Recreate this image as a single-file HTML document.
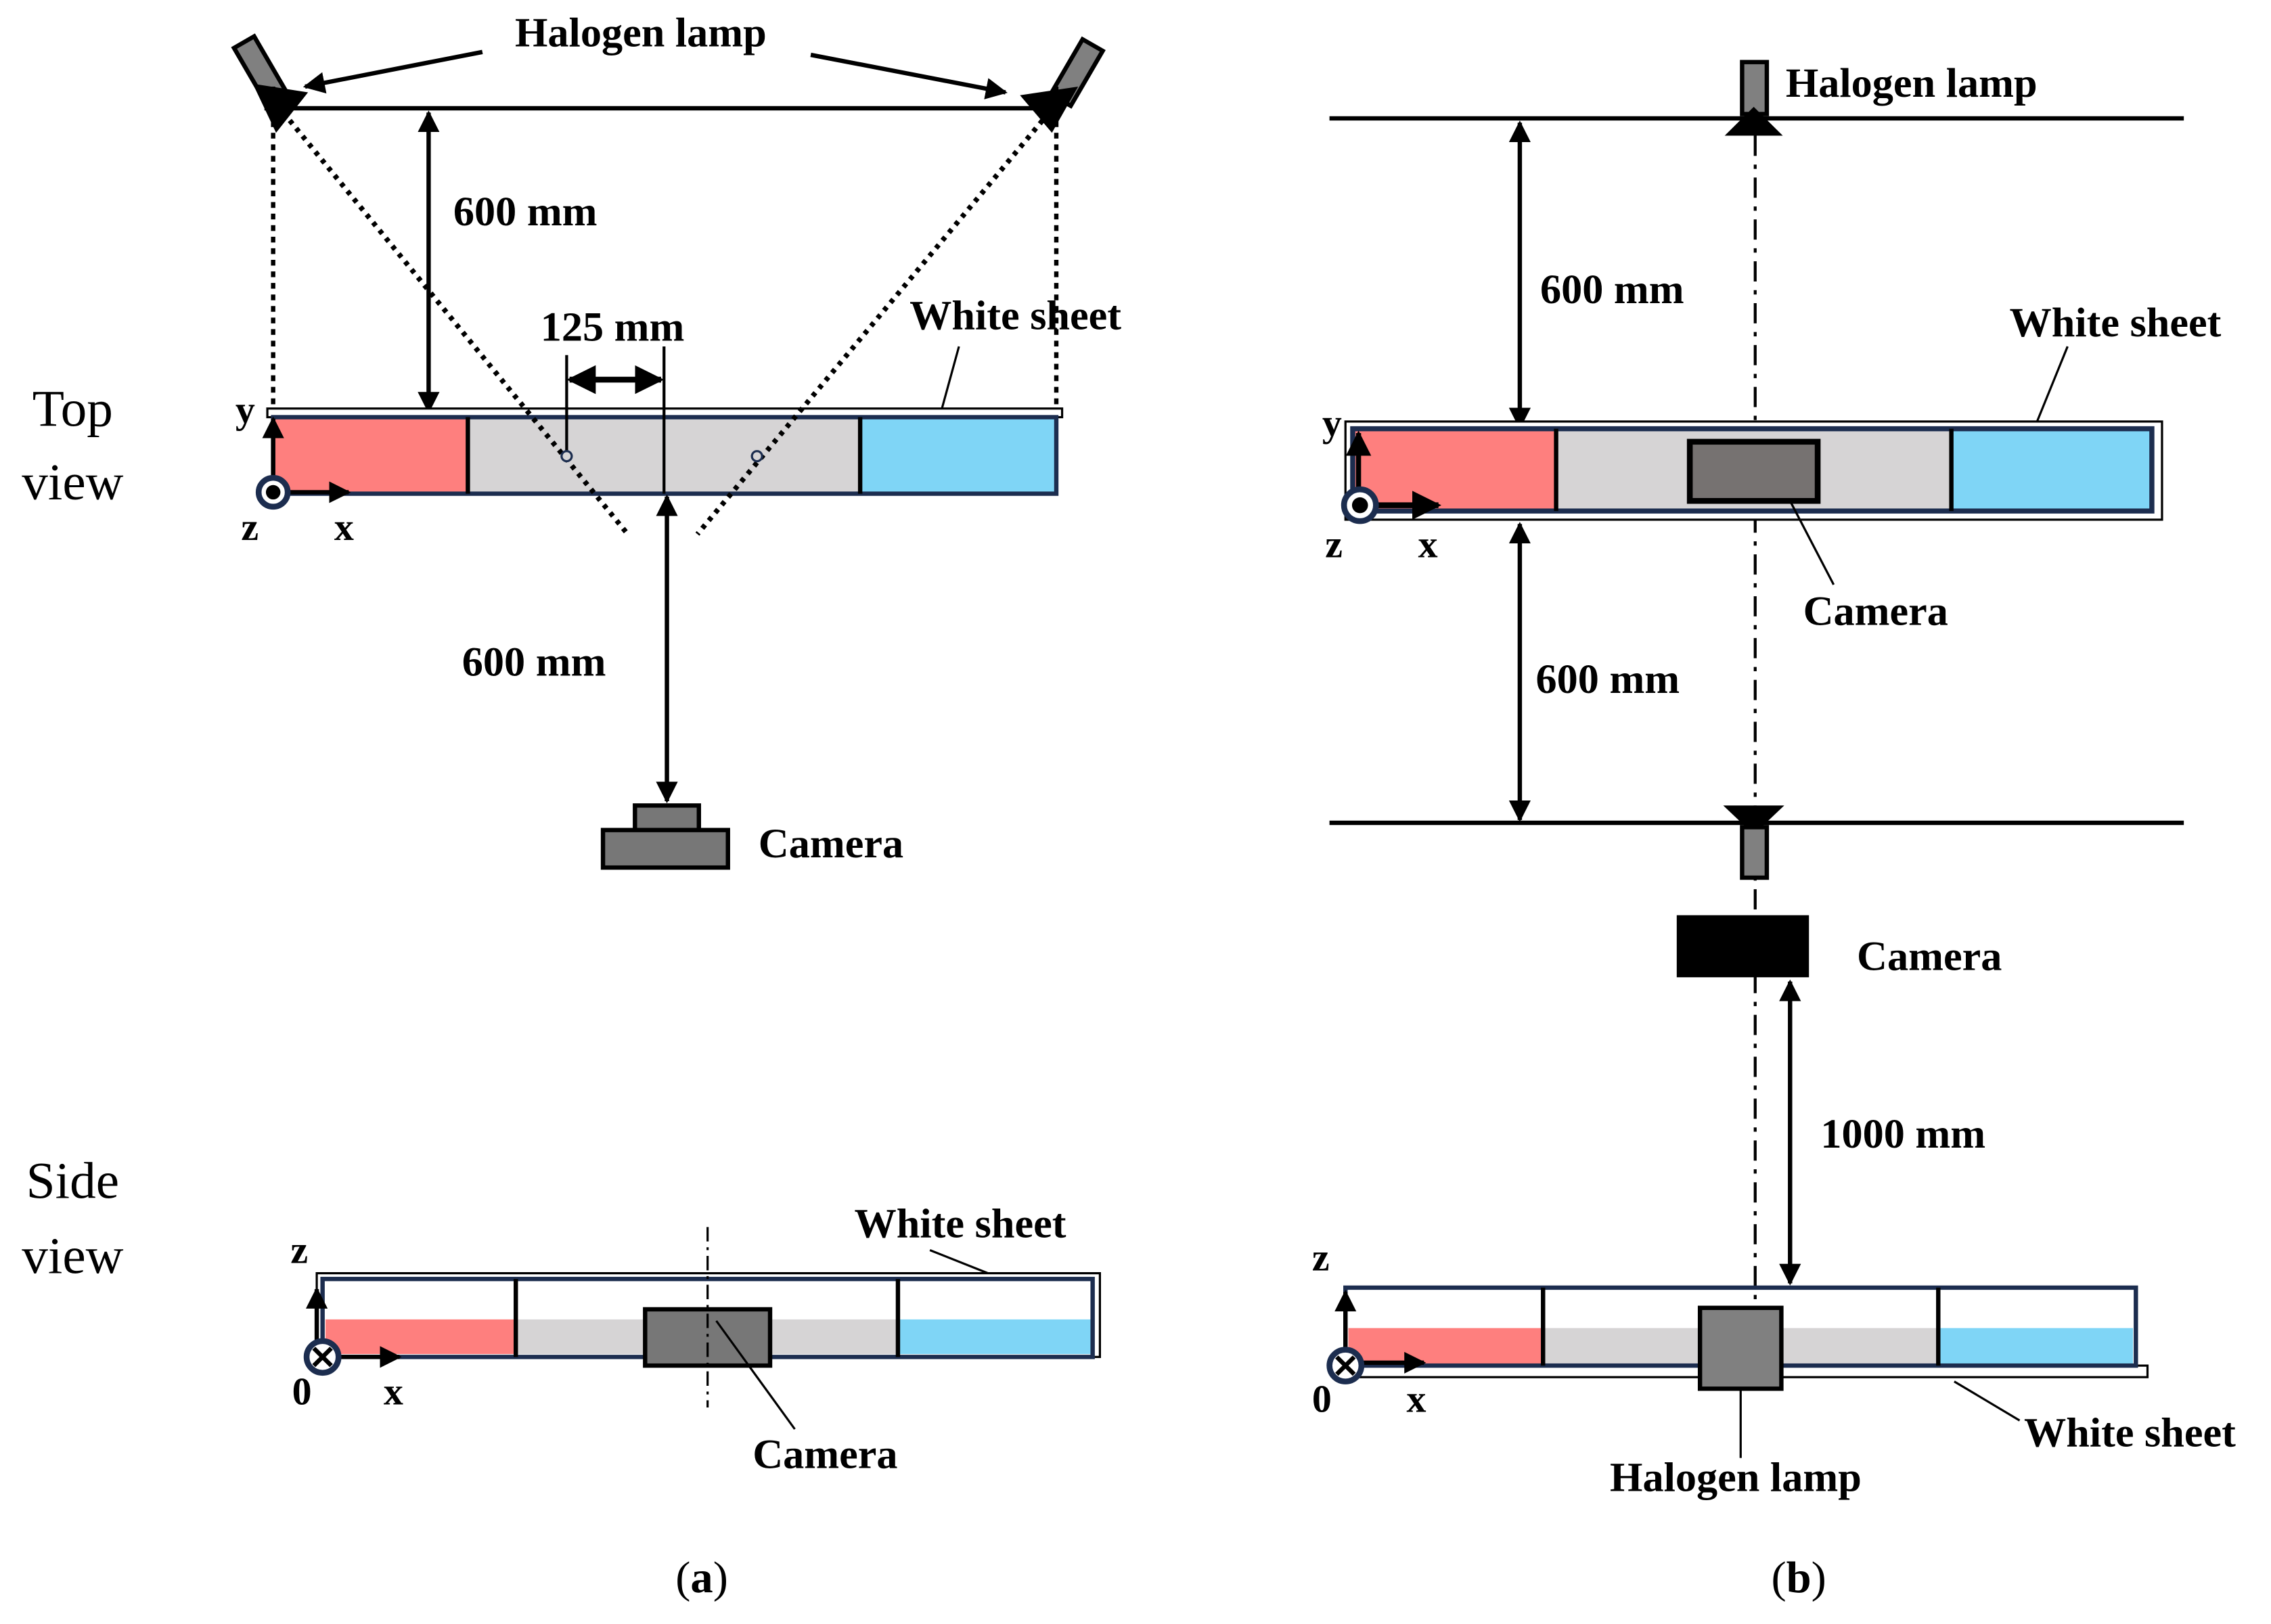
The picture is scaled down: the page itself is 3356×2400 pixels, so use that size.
<!DOCTYPE html>
<html><head><meta charset="utf-8"><style>
html,body{margin:0;padding:0;background:#fff}
svg{display:block}
text{font-family:"Liberation Serif",serif;font-weight:bold;fill:#000}
.r{font-weight:normal}
</style></head><body>
<svg width="3356" height="2400" viewBox="0 0 1563 1125" preserveAspectRatio="none" xmlns="http://www.w3.org/2000/svg">
<defs>
<marker id="ah" viewBox="0 0 10 10" refX="9" refY="5" markerWidth="5" markerHeight="5" orient="auto-start-reverse"><path d="M0,0 L10,5 L0,10 z" fill="#000"/></marker>
</defs>
<!-- ===== Panel (a) top ===== -->
<text x="441" y="32" font-size="29" text-anchor="middle">Halogen lamp</text>
<line x1="332" y1="36" x2="210" y2="60" stroke="#000" stroke-width="3" marker-end="url(#ah)"/>
<line x1="558" y1="38" x2="692" y2="64" stroke="#000" stroke-width="3" marker-end="url(#ah)"/>
<g transform="translate(180,50) rotate(-30)"><rect x="-8" y="-24" width="16" height="44" fill="#808080" stroke="#000" stroke-width="3"/></g>
<g transform="translate(740,52) rotate(30)"><rect x="-8" y="-24" width="16" height="44" fill="#808080" stroke="#000" stroke-width="3"/></g>
<polygon points="174,58 212,64 190,92" fill="#000"/>
<polygon points="742,60 702,66 724,92" fill="#000"/>
<line x1="182" y1="75" x2="731" y2="75" stroke="#000" stroke-width="3"/>
<line x1="188" y1="60" x2="188" y2="288" stroke="#000" stroke-width="3" stroke-dasharray="4,4"/>
<line x1="727" y1="60" x2="727" y2="288" stroke="#000" stroke-width="3" stroke-dasharray="4,4"/>
<line x1="295" y1="78" x2="295" y2="285" stroke="#000" stroke-width="3" marker-start="url(#ah)" marker-end="url(#ah)"/>
<text x="312" y="156" font-size="29">600 mm</text>
<text x="372" y="236" font-size="29">125 mm</text>
<text x="626" y="228" font-size="29">White sheet</text>
<line x1="660" y1="240" x2="648" y2="284" stroke="#000" stroke-width="1.5"/>
<rect x="184" y="283" width="547" height="6" fill="#fff" stroke="#000" stroke-width="1.5"/>
<rect x="188" y="289" width="134" height="53" fill="#fe7f7e"/>
<rect x="322" y="289" width="270" height="53" fill="#d6d4d5"/>
<rect x="592" y="289" width="135" height="53" fill="#7fd5f6"/>
<rect x="188" y="289" width="539" height="53" fill="none" stroke="#1c2d4f" stroke-width="3"/>
<line x1="322" y1="289" x2="322" y2="342" stroke="#000" stroke-width="3"/>
<line x1="592" y1="289" x2="592" y2="342" stroke="#000" stroke-width="3"/>
<line x1="195" y1="78" x2="432" y2="370" stroke="#000" stroke-width="3.5" stroke-dasharray="3,4"/>
<line x1="722" y1="78" x2="480" y2="370" stroke="#000" stroke-width="3.5" stroke-dasharray="3,4"/>
<line x1="390" y1="246" x2="390" y2="316" stroke="#000" stroke-width="2"/>
<line x1="457" y1="240" x2="457" y2="342" stroke="#000" stroke-width="2"/>
<line x1="392" y1="263" x2="455" y2="263" stroke="#000" stroke-width="4" marker-start="url(#ah)" marker-end="url(#ah)"/>
<circle cx="390" cy="316" r="3.5" fill="#d6d4d5" stroke="#1c2d4f" stroke-width="1.5"/>
<circle cx="521" cy="316" r="3.5" fill="#d6d4d5" stroke="#1c2d4f" stroke-width="1.5"/>
<line x1="188" y1="338" x2="188" y2="290" stroke="#000" stroke-width="3" marker-end="url(#ah)"/>
<line x1="192" y1="341" x2="240" y2="341" stroke="#000" stroke-width="3" marker-end="url(#ah)"/>
<text x="162" y="293" font-size="27">y</text>
<circle cx="188" cy="341" r="10" fill="#fff" stroke="#1c2d4f" stroke-width="4"/>
<circle cx="188" cy="341" r="5" fill="#000"/>
<text x="166" y="374" font-size="27">z</text>
<text x="230" y="374" font-size="27">x</text>
<text x="50" y="295" font-size="36" text-anchor="middle" class="r">Top</text>
<text x="50" y="346" font-size="36" text-anchor="middle" class="r">view</text>
<line x1="459" y1="344" x2="459" y2="555" stroke="#000" stroke-width="3" marker-start="url(#ah)" marker-end="url(#ah)"/>
<text x="318" y="468" font-size="29">600 mm</text>
<rect x="437" y="558" width="44" height="17" fill="#777" stroke="#000" stroke-width="3"/>
<rect x="415" y="575" width="86" height="26" fill="#777" stroke="#000" stroke-width="3"/>
<text x="522" y="594" font-size="29">Camera</text>
<!-- ===== Panel (a) side ===== -->
<text x="50" y="830" font-size="36" text-anchor="middle" class="r">Side</text>
<text x="50" y="882" font-size="36" text-anchor="middle" class="r">view</text>
<text x="588" y="857" font-size="29">White sheet</text>
<line x1="640" y1="866" x2="680" y2="882" stroke="#000" stroke-width="1.5"/>
<rect x="218" y="882" width="539" height="58" fill="#fff" stroke="#000" stroke-width="1.5"/>
<rect x="224" y="914" width="131" height="24" fill="#fe7f7e"/>
<rect x="355" y="914" width="263" height="24" fill="#d6d4d5"/>
<rect x="618" y="914" width="133" height="24" fill="#7fd5f6"/>
<rect x="222" y="886" width="530" height="54" fill="none" stroke="#1c2d4f" stroke-width="3"/>
<line x1="355" y1="886" x2="355" y2="940" stroke="#000" stroke-width="3"/>
<line x1="618" y1="886" x2="618" y2="940" stroke="#000" stroke-width="3"/>
<rect x="444" y="907" width="86" height="39" fill="#777" stroke="#000" stroke-width="3"/>
<line x1="487" y1="850" x2="487" y2="975" stroke="#000" stroke-width="1.5" stroke-dasharray="10,4,2,4"/>
<line x1="493" y1="915" x2="547" y2="990" stroke="#000" stroke-width="1.5"/>
<text x="518" y="1017" font-size="29">Camera</text>
<line x1="218" y1="937" x2="218" y2="893" stroke="#000" stroke-width="3" marker-end="url(#ah)"/>
<line x1="226" y1="940" x2="275" y2="940" stroke="#000" stroke-width="3" marker-end="url(#ah)"/>
<circle cx="222" cy="940" r="11" fill="#fff" stroke="#1c2d4f" stroke-width="4"/>
<line x1="216" y1="934" x2="228" y2="946" stroke="#000" stroke-width="3"/>
<line x1="228" y1="934" x2="216" y2="946" stroke="#000" stroke-width="3"/>
<text x="200" y="875" font-size="27">z</text>
<text x="201" y="973" font-size="27">0</text>
<text x="264" y="973" font-size="27">x</text>
<text x="483" y="1103" font-size="31" text-anchor="middle" class="r">(<tspan font-weight="bold">a</tspan>)</text>
<!-- ===== Panel (b) ===== -->
<line x1="915" y1="82" x2="1503" y2="82" stroke="#000" stroke-width="3"/>
<line x1="915" y1="570" x2="1503" y2="570" stroke="#000" stroke-width="3"/>
<rect x="1199" y="43" width="17" height="36" fill="#808080" stroke="#000" stroke-width="3"/>
<polygon points="1207,74 1187,94 1227,94" fill="#000"/>
<text x="1229" y="67" font-size="29">Halogen lamp</text>
<line x1="1208" y1="94" x2="1208" y2="905" stroke="#000" stroke-width="2" stroke-dasharray="14,6,3,6"/>
<line x1="1046" y1="85" x2="1046" y2="296" stroke="#000" stroke-width="3" marker-start="url(#ah)" marker-end="url(#ah)"/>
<text x="1060" y="210" font-size="29">600 mm</text>
<text x="1383" y="233" font-size="29">White sheet</text>
<line x1="1423" y1="240" x2="1402" y2="292" stroke="#000" stroke-width="1.5"/>
<rect x="926" y="292" width="562" height="68" fill="#fff" stroke="#000" stroke-width="1.5"/>
<rect x="932" y="298" width="140" height="55" fill="#fe7f7e"/>
<rect x="1072" y="298" width="271" height="55" fill="#d6d4d5"/>
<rect x="1343" y="298" width="137" height="55" fill="#7fd5f6"/>
<rect x="931" y="297" width="550" height="57" fill="none" stroke="#1c2d4f" stroke-width="3.5"/>
<line x1="1071" y1="297" x2="1071" y2="354" stroke="#000" stroke-width="3"/>
<line x1="1343" y1="297" x2="1343" y2="354" stroke="#000" stroke-width="3"/>
<rect x="1163" y="306" width="88" height="41" fill="#767271" stroke="#000" stroke-width="4"/>
<line x1="1232" y1="347" x2="1262" y2="405" stroke="#000" stroke-width="1.5"/>
<text x="1241" y="433" font-size="29">Camera</text>
<line x1="935" y1="347" x2="935" y2="300" stroke="#000" stroke-width="3.5" marker-end="url(#ah)"/>
<line x1="942" y1="350" x2="990" y2="350" stroke="#000" stroke-width="4" marker-end="url(#ah)"/>
<circle cx="936" cy="350" r="11" fill="#fff" stroke="#1c2d4f" stroke-width="4"/>
<circle cx="936" cy="350" r="5.5" fill="#000"/>
<text x="910" y="302" font-size="27">y</text>
<text x="912" y="386" font-size="27">z</text>
<text x="976" y="386" font-size="27">x</text>
<line x1="1046" y1="363" x2="1046" y2="568" stroke="#000" stroke-width="3" marker-start="url(#ah)" marker-end="url(#ah)"/>
<text x="1057" y="480" font-size="29">600 mm</text>
<polygon points="1186,558 1228,558 1207,578" fill="#000"/>
<rect x="1199" y="573" width="17" height="35" fill="#808080" stroke="#000" stroke-width="3"/>
<rect x="1154" y="634" width="91" height="43" fill="#000"/>
<text x="1278" y="672" font-size="29">Camera</text>
<line x1="1232" y1="680" x2="1232" y2="889" stroke="#000" stroke-width="3" marker-start="url(#ah)" marker-end="url(#ah)"/>
<text x="1253" y="795" font-size="29">1000 mm</text>
<rect x="926" y="946" width="552" height="8" fill="#fff" stroke="#000" stroke-width="1.5"/>
<rect x="928" y="920" width="134" height="26" fill="#fe7f7e"/>
<rect x="1062" y="920" width="272" height="26" fill="#d6d4d5"/>
<rect x="1334" y="920" width="134" height="26" fill="#7fd5f6"/>
<rect x="926" y="892" width="544" height="54" fill="none" stroke="#1c2d4f" stroke-width="3"/>
<line x1="1062" y1="892" x2="1062" y2="946" stroke="#000" stroke-width="3"/>
<line x1="1334" y1="892" x2="1334" y2="946" stroke="#000" stroke-width="3"/>
<rect x="1170" y="906" width="56" height="56" fill="#808080" stroke="#000" stroke-width="3"/>
<line x1="1198" y1="962" x2="1198" y2="1010" stroke="#000" stroke-width="1.5"/>
<text x="1108" y="1033" font-size="29">Halogen lamp</text>
<line x1="1345" y1="957" x2="1390" y2="984" stroke="#000" stroke-width="1.5"/>
<text x="1393" y="1002" font-size="29">White sheet</text>
<line x1="926" y1="942" x2="926" y2="895" stroke="#000" stroke-width="3" marker-end="url(#ah)"/>
<line x1="932" y1="944" x2="980" y2="944" stroke="#000" stroke-width="3" marker-end="url(#ah)"/>
<circle cx="926" cy="946" r="11" fill="#fff" stroke="#1c2d4f" stroke-width="4"/>
<line x1="920" y1="940" x2="932" y2="952" stroke="#000" stroke-width="3"/>
<line x1="932" y1="940" x2="920" y2="952" stroke="#000" stroke-width="3"/>
<text x="903" y="880" font-size="27">z</text>
<text x="903" y="978" font-size="27">0</text>
<text x="968" y="978" font-size="27">x</text>
<text x="1238" y="1103" font-size="31" text-anchor="middle" class="r">(<tspan font-weight="bold">b</tspan>)</text>
</svg>
</body></html>
